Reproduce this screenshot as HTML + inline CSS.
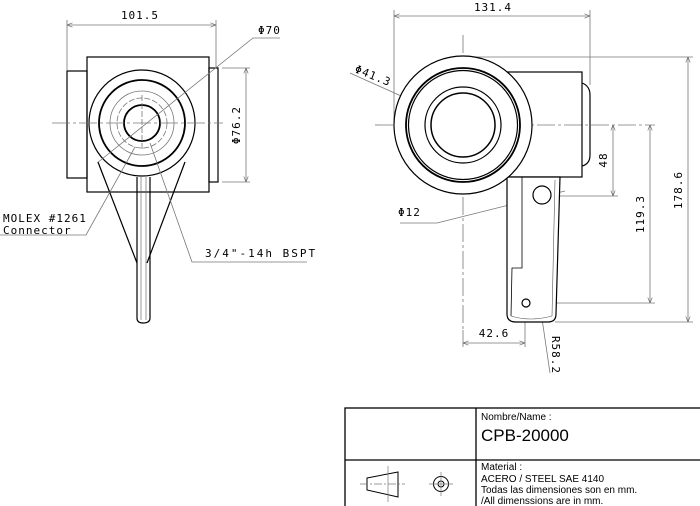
<!DOCTYPE html>
<html><head><meta charset="utf-8"><style>
html,body{margin:0;padding:0;background:#fff;}
svg{display:block}
text{font-family:"DejaVu Sans Mono","Liberation Mono",monospace;font-size:11px;fill:#000;letter-spacing:1px}
.t{font-family:"Liberation Sans",sans-serif;letter-spacing:0}
</style></head><body>
<svg width="700" height="506" viewBox="0 0 700 506" xmlns="http://www.w3.org/2000/svg">
<defs>
<marker id="a" viewBox="0 0 10 10" refX="10" refY="5" markerWidth="7" markerHeight="7" orient="auto-start-reverse"><path d="M0,1 L10,5 L0,9" fill="none" stroke="#555" stroke-width="1"/></marker>
</defs>
<g fill="none" stroke="#000" stroke-width="1.2">
<!-- LEFT VIEW -->
<rect x="87" y="57" width="122" height="135"/>
<rect x="67" y="71" width="20" height="107"/>
<rect x="209" y="68" width="9" height="114"/>
<circle cx="142" cy="123" r="53" fill="#fff"/>
<circle cx="142" cy="123" r="43" stroke-width="1.8"/>
<circle cx="142" cy="123" r="18" stroke-width="1.8"/>
<path d="M98,162 L137,263 M185,162 L147,263"/>
<path d="M98,162 L104,178 M185,162 L179,178" stroke-width="0.8"/>
<path d="M137,177 L137,318 Q137,323 143,323 Q150,323 150,318 L150,177"/>
<path d="M141,177 L141,320 M146,177 L146,320" stroke-width="0.6" stroke="#555"/>
</g>
<g fill="none" stroke="#777" stroke-width="0.8">
<circle cx="142" cy="123" r="32"/>
<circle cx="142" cy="123" r="25" stroke-dasharray="6,2"/>
<line x1="52" y1="123" x2="223" y2="123" stroke-dasharray="18,3,3,3"/>
<line x1="142" y1="95" x2="142" y2="150" stroke-dasharray="6,2"/>
<!-- dims -->
<line x1="67" y1="20" x2="67" y2="70"/>
<line x1="216" y1="20" x2="216" y2="67"/>
<line x1="67" y1="25" x2="216" y2="25" marker-start="url(#a)" marker-end="url(#a)"/>
<line x1="222" y1="68" x2="250" y2="68"/>
<line x1="222" y1="182" x2="250" y2="182"/>
<line x1="246" y1="68" x2="246" y2="182" marker-start="url(#a)" marker-end="url(#a)"/>
<polyline points="280,38 253,38 97,163"/>
<polyline points="0,235 86,235 135,147"/>
<polyline points="307,262 192,262 150,143"/>
<!-- RIGHT VIEW -->
<line x1="394" y1="10" x2="394" y2="125"/>
<line x1="590" y1="10" x2="590" y2="85"/>
<line x1="394" y1="16" x2="590" y2="16" marker-start="url(#a)" marker-end="url(#a)"/>
<line x1="463" y1="35" x2="463" y2="330" stroke-dasharray="18,3,3,3"/>
<line x1="375" y1="125" x2="655" y2="125" stroke-dasharray="18,3,3,3"/>
<line x1="463" y1="57" x2="693" y2="57"/>
<line x1="555" y1="322" x2="693" y2="322"/>
<line x1="688" y1="57" x2="688" y2="322" marker-start="url(#a)" marker-end="url(#a)"/>
<line x1="560" y1="196" x2="618" y2="196"/>
<line x1="613" y1="125" x2="613" y2="196" marker-start="url(#a)" marker-end="url(#a)"/>
<line x1="538" y1="303" x2="655" y2="303"/>
<line x1="650" y1="125" x2="650" y2="303" marker-start="url(#a)" marker-end="url(#a)"/>
<line x1="525" y1="322" x2="525" y2="347"/>
<line x1="463" y1="330" x2="463" y2="347"/>
<line x1="463" y1="343" x2="525" y2="343" marker-start="url(#a)" marker-end="url(#a)"/>
<line x1="350" y1="73" x2="488" y2="135" marker-end="url(#a)"/>
<polyline points="400,223 437,223 565,191"/>
<line x1="530" y1="237" x2="550" y2="373"/>
</g>
<g fill="none" stroke="#000" stroke-width="1.2">
<rect x="507" y="72" width="75" height="105"/>
<path d="M582,83 Q590,86 590,95 L590,155 Q590,164 582,166"/>
<path d="M507,177 L507,314 Q507,322 516,322 L548,322 Q556,322 556,314 L560,177 Z" fill="#fff"/>
<path d="M522,177 L522,268 L512,268 L511,316" stroke-width="0.8"/>
<path d="M555,180 L552,316 M511,316 Q530,322 552,316" stroke-width="0.6" stroke="#555"/>
<circle cx="463" cy="125" r="69" fill="#fff"/>
<circle cx="463" cy="125" r="57" stroke-width="1.8"/>
<circle cx="463" cy="125" r="54.5"/>
<circle cx="463" cy="125" r="38"/>
<circle cx="463" cy="125" r="32" stroke-width="1.5"/>
<circle cx="542" cy="195" r="9"/>
<circle cx="526" cy="303" r="4"/>
<!-- title block -->
<rect x="345" y="408" width="360" height="110" stroke-width="1.3"/>
<line x1="476" y1="408" x2="476" y2="506" stroke-width="1.3"/>
<line x1="345" y1="460" x2="700" y2="460" stroke-width="1.3"/>
<path d="M367,478 L398,472 L398,497 L367,490 Z" stroke-width="1"/>
<circle cx="441" cy="484" r="7.5" stroke-width="1"/>
<circle cx="441" cy="484" r="3" stroke-width="1"/>
</g>
<g stroke="#777" stroke-width="0.7">
<line x1="360" y1="484" x2="405" y2="484" stroke-dasharray="8,2,2,2"/>
<line x1="388" y1="466" x2="388" y2="502"/>
<line x1="429" y1="484" x2="453" y2="484"/>
<line x1="441" y1="472" x2="441" y2="496"/>
</g>
<text x="140" y="19" text-anchor="middle">101.5</text>
<text x="258" y="34">Φ70</text>
<text x="240" y="125" text-anchor="middle" transform="rotate(-90 240 125)">Φ76.2</text>
<text x="3" y="222">MOLEX #1261</text>
<text x="3" y="234">Connector</text>
<text x="205" y="257" style="letter-spacing:2px">3/4"-14h BSPT</text>
<text x="493" y="11" text-anchor="middle">131.4</text>
<text x="354" y="72" transform="rotate(22 354 72)">Φ41.3</text>
<text x="398" y="216">Φ12</text>
<text x="607" y="160" text-anchor="middle" transform="rotate(-90 607 160)">48</text>
<text x="644" y="214" text-anchor="middle" transform="rotate(-90 644 214)">119.3</text>
<text x="682" y="190" text-anchor="middle" transform="rotate(-90 682 190)">178.6</text>
<text x="494" y="337" text-anchor="middle">42.6</text>
<text x="552" y="355" text-anchor="middle" transform="rotate(90 552 355)">R58.2</text>
<g class="t">
<text class="t" x="481" y="420" style="font-size:10px">Nombre/Name :</text>
<text class="t" x="481" y="441" style="font-size:17px">CPB-20000</text>
<text class="t" x="481" y="470" style="font-size:10px">Material :</text>
<text class="t" x="481" y="482" style="font-size:10px">ACERO / STEEL SAE 4140</text>
<text class="t" x="481" y="493" style="font-size:10px">Todas las dimensiones son en mm.</text>
<text class="t" x="481" y="504" style="font-size:10px">/All dimenssions are in mm.</text>
</g>
</svg>
</body></html>
